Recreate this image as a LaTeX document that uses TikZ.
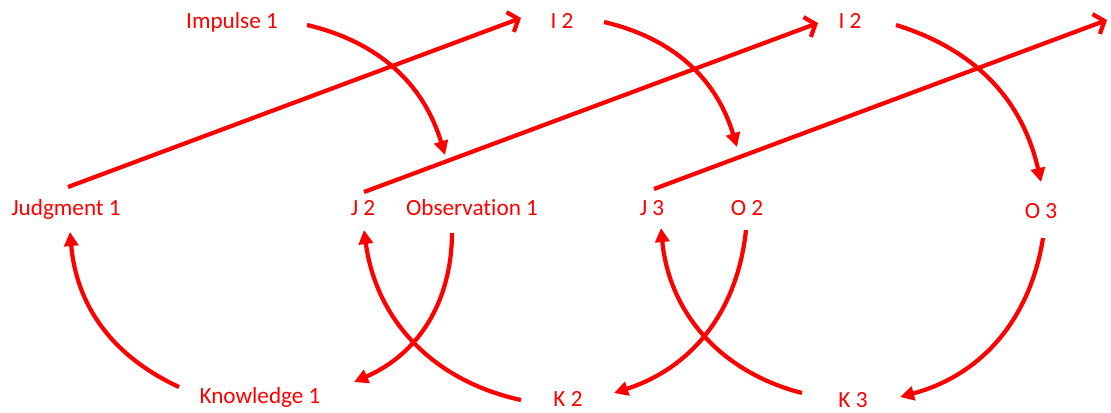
\documentclass[tikz,border=0pt]{standalone}
\usepackage{fontspec}
\setmainfont{Carlito}[Ligatures=NoCommon]
\usetikzlibrary{arrows.meta,calc}
\definecolor{flowred}{RGB}{255,0,0}
\tikzset{
  lbl/.style={
    anchor = base,
    inner sep = 0pt,
    text = flowred,
    font = \fontsize{13.2}{15}\selectfont
  },
  fwdline/.style={
    draw = flowred,
    line width = 2.4pt,
    -{Straight Barb[length=5pt,width=12pt]}
  },
  arcline/.style={
    draw = flowred,
    line width = 2.4pt,
    -{Triangle[length=8pt,width=8pt]}
  }
}

\begin{document}
\begin{tikzpicture}[x=0.02cm, y=-0.02cm]
    \useasboundingbox (0,0) rectangle (1111,412);
    % labels
    \node[lbl] (imp1) at (232,29) {Impulse 1};
    \node[lbl] (i2a) at (562,29) {I 2};
    \node[lbl] (i2b) at (850,29) {I 2};
    \coordinate (i3) at (1107,20);
    \node[lbl] (jud1) at (66,215) {Judgment 1};
    \node[lbl] (j2) at (363,215) {J 2};
    \node[lbl] (obs1) at (472,215) {Observation 1};
    \node[lbl] (j3) at (652,215) {J 3};
    \node[lbl] (o2) at (747,215) {O 2};
    \node[lbl] (o3) at (1041,218) {O 3};
    \node[lbl] (kno1) at (260,403) {Knowledge 1};
    \node[lbl] (k2) at (568,406) {K 2};
    \node[lbl] (k3) at (853,407) {K 3};
    % judgments to impulses
    \draw[fwdline] ($(jud1.base)+(2,-28)$) -- ($(i2a.base)+(-41,-11)$);
    \draw[fwdline] ($(j2.base)+(1,-23)$) -- ($(i2b.base)+(-32,-6)$);
    \draw[fwdline] ($(j3.base)+(2,-26)$) -- (i3);
    % impulses to observations
    \draw[arcline] ($(imp1.base)+(75,-4)$) to[bend left=30] ($(obs1.base)+(-27,-60)$);
    \draw[arcline] ($(i2a.base)+(42,-7)$) to[bend left=30] ($(o2.base)+(-10,-68)$);
    \draw[arcline] ($(i2b.base)+(46,-4)$) to[bend left=30] ($(o3.base)+(0,-36)$);
    % observations to knowledge
    \draw[arcline] ($(obs1.base)+(-20,18)$) to[bend left=33] ($(kno1.base)+(94,-21)$);
    \draw[arcline] ($(o2.base)+(-1,15)$) to[bend left=33] ($(k2.base)+(46,-13)$);
    \draw[arcline] ($(o3.base)+(2,20)$) to[bend left=33] ($(k3.base)+(47,-10)$);
    % knowledge to judgments
    \draw[arcline] ($(kno1.base)+(-81,-16)$) to[bend left=30] ($(jud1.base)+(4,17)$);
    \draw[arcline] ($(k2.base)+(-47,-6)$) to[bend left=35] ($(j2.base)+(1,15)$);
    \draw[arcline] ($(k3.base)+(-51,-14)$) to[bend left=35] ($(j3.base)+(9,13)$);
\end{tikzpicture}
\end{document}
